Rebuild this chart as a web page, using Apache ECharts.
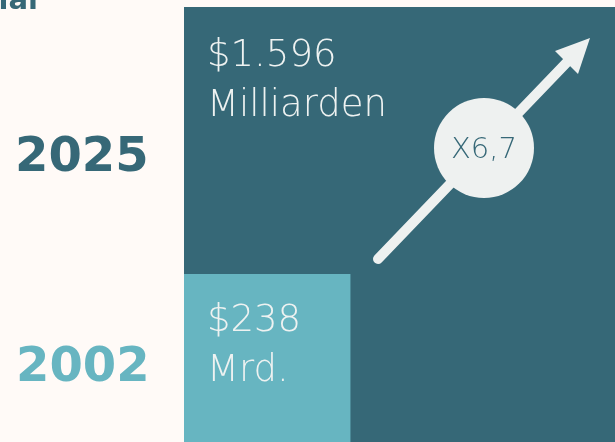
<!DOCTYPE html>
<html>
<head>
<meta charset="utf-8">
<script src="https://cdn.jsdelivr.net/npm/echarts@6/dist/echarts.min.js"></script>
<style>
  html, body { margin: 0; padding: 0; background: #fffaf7; }
  #chart { width: 615px; height: 442px; }
</style>
</head>
<body>
<div id="chart"></div>
<script>
// Daten
const years = ['2025', '2002'];
const values = [1596, 238];            // Mrd. USD
const valueLabels = ['$1.596\nMilliarden', '$238\nMrd.'];
const growthLabel = 'X6,7';
const titleTail = 'Potenzial';

const DARK = '#366877';
const LIGHT = '#67b5c1';
const TEXT = '#eef2f1';
const FONT = '"DejaVu Sans", sans-serif';

let maxSide = Math.sqrt(Math.max(...values));

let myChart = echarts.init(document.getElementById('chart'));
myChart.setOption({
  backgroundColor: '#fffaf7',
  animation: false,
  grid: { left: 184, top: 7, width: 435, height: 435 },
  xAxis: { type: 'value', min: 0, max: maxSide, show: false },
  yAxis: { type: 'value', min: 0, max: maxSide, show: false },
  series: [{
    type: 'custom',
    z: 2,
    data: values.map((v, i) => [v, i]),
    renderItem: function (params, api) {
      let i = api.value(1);
      let side = Math.sqrt(api.value(0));
      let p0 = api.coord([0, side]);
      let p1 = api.coord([side, 0]);
      return {
        type: 'group',
        children: [
          {
            type: 'rect',
            shape: { x: p0[0], y: p0[1], width: p1[0] - p0[0], height: p1[1] - p0[1] },
            style: { fill: i === 0 ? DARK : LIGHT }
          },
          {
            type: 'text',
            x: p0[0] + 23,
            y: p0[1] + (i === 0 ? 24 : 22),
            style: {
              text: valueLabels[i],
              fill: TEXT,
              font: '200 37px ' + FONT,
              lineHeight: 50
            }
          }
        ]
      };
    }
  }],
  graphic: [
    // abgeschnittener Titel oben links
    {
      type: 'text', x: 38, y: 16, z: 100,
      style: { text: titleTail, fill: DARK, font: 'bold 29px ' + FONT, align: 'right', verticalAlign: 'bottom' }
    },
    // Jahre
    {
      type: 'text', x: 15, y: 159, z: 100,
      style: { text: years[0], fill: DARK, font: 'bold 48px ' + FONT, verticalAlign: 'middle' }
    },
    {
      type: 'text', x: 16, y: 369, z: 100,
      style: { text: years[1], fill: LIGHT, font: 'bold 48px ' + FONT, verticalAlign: 'middle' }
    },
    // Pfeil
    {
      type: 'line', z: 100,
      shape: { x1: 378, y1: 259, x2: 572, y2: 57 },
      style: { stroke: '#eef1f0', lineWidth: 10, lineCap: 'round' }
    },
    {
      type: 'polygon', z: 100,
      shape: { points: [[590, 38], [578, 74], [555, 51]] },
      style: { fill: '#eef1f0' }
    },
    {
      type: 'circle', z: 100,
      shape: { cx: 484, cy: 148, r: 50 },
      style: { fill: '#eef1f0' }
    },
    {
      type: 'text', x: 484, y: 150, z: 101,
      style: { text: growthLabel, fill: DARK, font: '200 29px ' + FONT, align: 'center', verticalAlign: 'middle' }
    }
  ]
});
</script>
</body>
</html>
